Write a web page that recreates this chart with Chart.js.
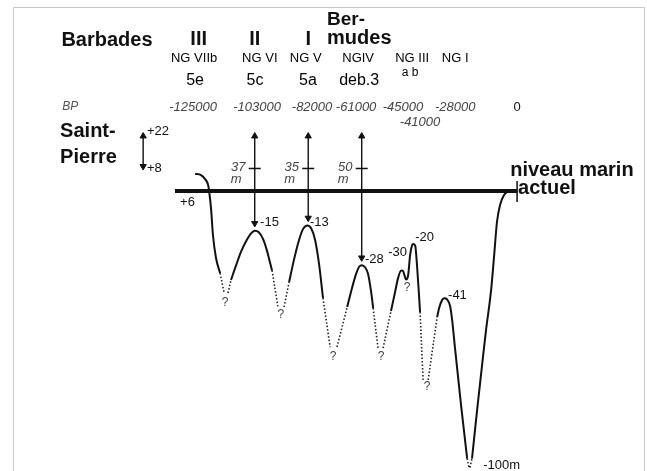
<!DOCTYPE html>
<html><head><meta charset="utf-8">
<script src="https://cdn.jsdelivr.net/npm/chart.js@4.4.1/dist/chart.umd.min.js"></script>
<style>html,body{margin:0;padding:0;background:#fff}canvas{display:block}</style>
</head><body>
<canvas id="c" width="647" height="471"></canvas>
<script>
// ---- DATA (time in years BP, negative = past; level in metres vs present sea level) ----
const periodNames = ['III', 'II', 'I'];
const periodTimes = [-125000, -103000, -82000];
const ngNames = ['NG VIIb', 'NG VI', 'NG V', 'NGIV', 'NG III', 'NG I'];
const ngTimes = [-126800, -101000, -83000, -62400, -41200, -24300];
const isoNames = ['5e', '5c', '5a', 'deb.3'];
const isoTimes = [-126400, -102900, -82100, -62000];
const bpLabels = ['-125000', '-103000', '-82000', '-61000', '-45000', '-28000', '0'];
const bpTimes = [-127200, -102100, -80500, -63200, -44800, -24300, 0];

// high-stand peaks with arrows from Saint-Pierre level (+22 m)
const arrowTimes = [-103000, -82000, -61000];
const arrowTop = 22;
const arrowPeaks = [-15, -13, -28];
const arrowSpans = ['37', '35', '50'];
const arrowTick = 8.5;
const saintPierreTime = -146800;
const saintPierreRange = [22, 8];

// present sea level line
const seaLineTimes = [-134300, 0];

// solid parts of the sea-level curve [time, level]
const curveSolid = [
  [[-126400,6.5],[-124100,6.0],[-122500,4.5],[-121300,2.3],[-120900,0],[-120100,-7.2],[-119400,-16.6],[-118200,-25.3],[-116600,-31.0]],
  [[-112300,-33.6],[-110300,-28],[-108400,-23],[-106400,-19],[-104600,-16.2],[-103000,-15],[-101400,-15.6],[-99800,-18],[-98200,-22.5],[-97000,-27],[-96200,-30]],
  [[-89500,-34.4],[-87600,-26],[-85600,-18.5],[-84000,-14.3],[-82300,-13],[-80900,-14],[-79300,-18.5],[-77700,-27.9],[-76200,-40.4]],
  [[-66700,-43.8],[-64800,-36.6],[-63200,-31.3],[-62000,-28.6],[-60900,-28],[-59700,-28.8],[-58500,-31.3],[-57300,-38.1],[-56500,-44.2]],
  [[-49500,-45.3],[-47900,-38.1],[-46700,-32.8],[-45500,-30],[-44800,-30.2],[-44000,-32.5],[-43600,-33.4],[-42800,-32],[-42000,-24.2],[-41200,-20.4],[-40800,-20],[-40000,-20.6],[-39300,-27.9],[-38500,-39.3],[-38100,-45.7]],
  [[-31400,-47.6],[-30600,-44.2],[-29400,-41.1],[-28500,-40.5],[-27500,-40.9],[-26300,-43.4],[-25500,-48.7],[-24300,-60],[-22000,-80.8],[-19600,-101]],
  [[-17700,-101],[-15700,-82.7],[-13300,-61.9],[-12200,-52.5],[-10200,-37.4],[-9000,-24.2],[-7900,-11.7],[-6700,-5.3],[-5100,-1.5],[-3500,0]]
];
// uncertain (dotted) parts of the curve
const curveDotted = [
  [[-116600,-31.0],[-115000,-38.5]], [[-113500,-38.5],[-112300,-33.6]],
  [[-96200,-30],[-93800,-44.2]], [[-91500,-43.8],[-89500,-34.4]],
  [[-76200,-40.4],[-73400,-58.9]], [[-70700,-58.9],[-66700,-43.8]],
  [[-56500,-44.2],[-54600,-59.3]], [[-52600,-59.3],[-49500,-45.3]],
  [[-38100,-45.7],[-36900,-71.3]], [[-34900,-71.3],[-31400,-47.6]],
  [[-19600,-101],[-18900,-104.4]], [[-18500,-104.4],[-17700,-101]]
];
// level labels [text, time, level]
const levelLabels = [['+6',-132300,-4.2],['-15',-100900,-11.7],['-13',-81300,-11.7],['-28',-59700,-26.0],['-20',-40000,-17.7],['-41',-27100,-39.3],['-100m',-13300,-103.6]];
const questionMarks = [[-114600,-42.3],[-92700,-46.8],[-72200,-62.7],[-53400,-62.7],[-43200,-36.6],[-35300,-74.0]];

// ---- build ----
const FONT = '"Liberation Sans", Arial, Helvetica, sans-serif';
function joinSegs(segs){
  const out = [];
  segs.forEach((s, i) => {
    if (i) { const prev = segs[i-1][segs[i-1].length-1][0]; out.push({x:(prev + s[0][0]) / 2, y:null}); }
    s.forEach(([t, v]) => out.push({x:t, y:v}));
  });
  return out;
}

const ink = '#111';
const datasets = [];
datasets.push({data: seaLineTimes.map(t => ({x:t, y:0})), borderColor: ink, borderWidth: 4, pointRadius: 0, borderCapStyle:'butt'});
datasets.push({data: [{x:0, y:3.8}, {x:0, y:-4.2}], borderColor: ink, borderWidth: 1.5, pointRadius: 0});
datasets.push({data: joinSegs(curveSolid), borderColor: ink, borderWidth: 2, pointRadius: 0, cubicInterpolationMode: 'monotone'});
datasets.push({data: joinSegs(curveDotted), borderColor: '#222', borderWidth: 1.6, borderDash: [1.5, 2], pointRadius: 0, tension: 0});

const HEAD = 1.3; // arrow head centre offset (m)
function arrow(t, top, bottom){
  return {data: [{x:t, y:top - HEAD}, {x:t, y:bottom + HEAD}], borderColor: ink, borderWidth: 1.4,
    pointStyle: 'triangle', pointRotation: [0, 180], pointRadius: 3.6, pointBackgroundColor: ink, pointBorderColor: ink, pointBorderWidth: 1};
}
arrowTimes.forEach((t, i) => datasets.push(arrow(t, arrowTop, arrowPeaks[i] + 1.5)));
datasets.push(arrow(saintPierreTime, saintPierreRange[0], saintPierreRange[1]));
datasets.push({data: arrowTimes.map(t => ({x:t, y:arrowTick})), showLine: false, pointStyle: 'line', pointRadius: 6, pointBorderColor: ink, pointBorderWidth: 1.5});

// texts placed in data coordinates
const texts = [];
const big = 'bold 20px ' + FONT;
texts.push({s:'Barbades', t:-161000, v:57.0, f:big});
periodNames.forEach((s, i) => texts.push({s, t:periodTimes[i], v:57.2, f:big}));
texts.push({s:'Ber-', t:-74600, v:64.6, f:'bold 19px ' + FONT, a:'left'});
texts.push({s:'mudes', t:-74600, v:57.6, f:big, a:'left'});
ngNames.forEach((s, i) => texts.push({s, t:ngTimes[i], v:50.2, f:'13px ' + FONT, c:'#000'}));
texts.push({s:'a b', t:-42000, v:44.5, f:'12px ' + FONT, c:'#000'});
isoNames.forEach((s, i) => texts.push({s, t:isoTimes[i], v:41.5, f:'16px ' + FONT, c:'#000'}));
texts.push({s:'BP', t:-178600, v:31.7, f:'italic 12px ' + FONT, a:'left', c:'#555'});
bpLabels.forEach((s, i) => texts.push({s, t:bpTimes[i], v:31.7, f:(s === '0' ? '13px ' : 'italic 13px ') + FONT, c: s === '0' ? ink : '#444'}));
texts.push({s:'-41000', t:-38100, v:26.0, f:'italic 13px ' + FONT, c:'#444'});
texts.push({s:'Saint-', t:-179400, v:22.3, f:big, a:'left'});
texts.push({s:'Pierre', t:-179400, v:12.8, f:big, a:'left'});
texts.push({s:'+22', t:-145300, v:22.6, f:'13px ' + FONT, a:'left'});
texts.push({s:'+8', t:-145300, v:8.7, f:'13px ' + FONT, a:'left'});
arrowTimes.forEach((t, i) => {
  texts.push({s:arrowSpans[i], t:t - 6500, v:8.9, f:'italic 13px ' + FONT, c:'#444'});
  texts.push({s:'m', t:t - 7300, v:4.5, f:'italic 13px ' + FONT, c:'#444'});
});
levelLabels.forEach(([s, t, v]) => texts.push({s, t, v, f:'13px ' + FONT, a:'left'}));
texts.push({s:'-30', t:-43200, v:-23.0, f:'13px ' + FONT, a:'right'});
questionMarks.forEach(([t, v]) => texts.push({s:'?', t, v, f:'12px ' + FONT, c:'#444'}));
texts.push({s:'niveau marin', t:-2700, v:7.9, f:big, a:'left'});
texts.push({s:'actuel', t:400, v:1.1, f:big, a:'left'});

const textPlugin = {
  id: 'texts',
  beforeDraw(chart){
    const ctx = chart.ctx;
    ctx.save();
    ctx.fillStyle = '#fff'; ctx.fillRect(0, 0, chart.width, chart.height);
    ctx.strokeStyle = '#c8c8c8'; ctx.lineWidth = 1;
    ctx.strokeRect(13.5, 7.5, 631, 470);
    ctx.restore();
  },
  afterDatasetsDraw(chart){
    const {ctx, scales:{x, y}} = chart;
    ctx.save();
    ctx.textBaseline = 'middle';
    texts.forEach(l => {
      ctx.font = l.f; ctx.fillStyle = l.c || ink; ctx.textAlign = l.a || 'center';
      ctx.fillText(l.s, x.getPixelForValue(l.t), y.getPixelForValue(l.v));
    });
    ctx.restore();
  }
};

new Chart(document.getElementById('c'), {
  type: 'line',
  data: {datasets},
  options: {
    responsive: false, animation: false, devicePixelRatio: 1,
    layout: {padding: 0, autoPadding: false},
    plugins: {legend: {display: false}, tooltip: {enabled: false}, title: {display: false}},
    elements: {line: {fill: false}},
    scales: {
      x: {type: 'linear', min: -203000, max: 51000, display: false},
      y: {type: 'linear', min: -105.7, max: 72.1, display: false}
    }
  },
  plugins: [textPlugin]
});
</script>
</body></html>
